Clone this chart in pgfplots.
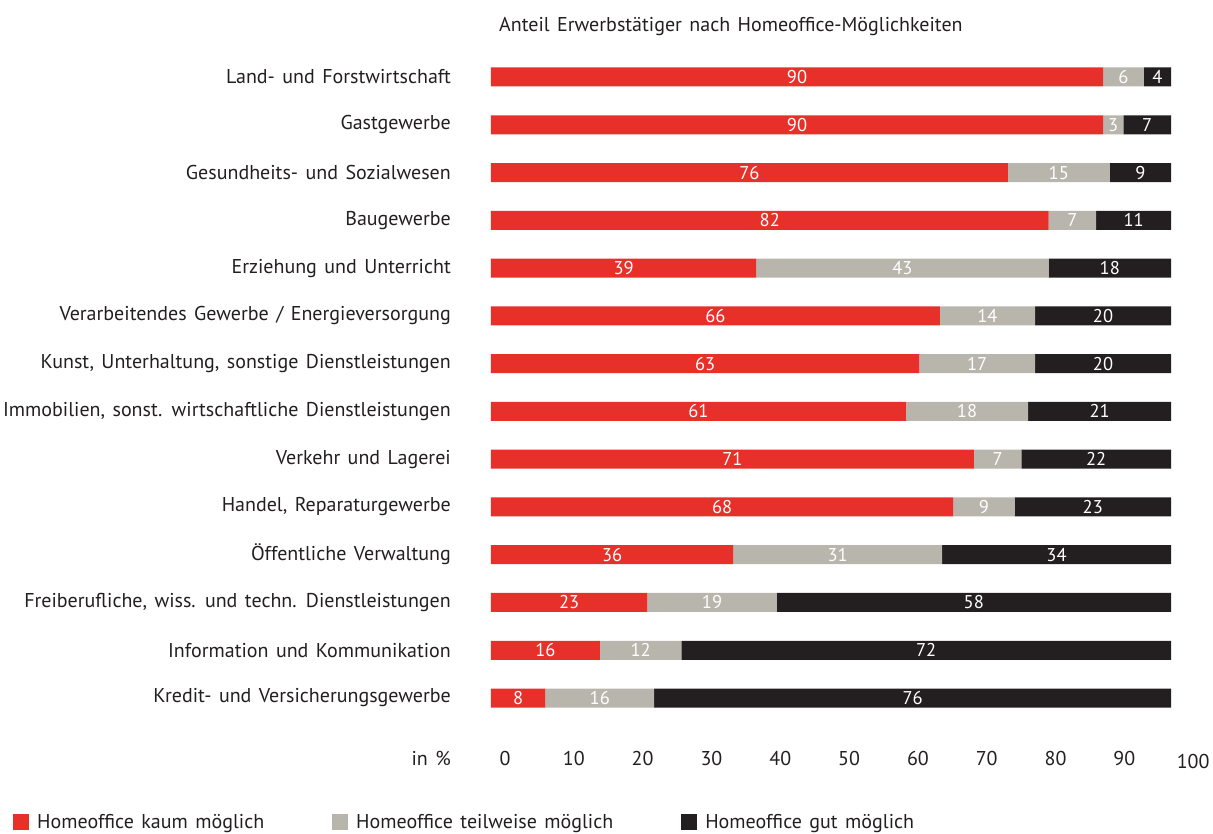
\documentclass[border=0pt]{standalone}
\usepackage{pgfplots}
\pgfplotsset{compat=1.18}
\usepackage{pgfplotstable}
\usepackage{fontspec}
\setmainfont[WordSpace=1.4]{PT Sans}
\definecolor{cred}{HTML}{E8302A}
\definecolor{cgrey}{HTML}{B8B5AD}
\definecolor{cblack}{HTML}{231F20}

\pgfplotstableread{
idx a b c
0 90 6 4
1 90 3 7
2 76 15 9
3 82 7 11
4 39 43 18
5 66 14 20
6 63 17 20
7 61 18 21
8 71 7 22
9 68 9 23
10 36 31 34
11 23 19 58
12 16 12 72
13 8 16 76
}\data

\newcommand{\lblfont}{\fontsize{20}{23}\selectfont}
\newcommand{\valfont}{\fontsize{18.5}{21}\selectfont}

\pgfplotsset{
  common/.style={
    at={(491pt,111.1pt)}, anchor=south west,
    scale only axis, width=702.44pt, height=668.8pt,
    xmin=0, xmax=103.3, ymin=-0.5, ymax=13.5, y dir=reverse,
  }
}

\begin{document}
\begin{tikzpicture}
\begin{axis}[
  common,
  xbar stacked, bar width=19pt,
  axis line style={draw=none}, major tick length=0pt,
  ytick={0,...,13},
  yticklabels={{Land- und Forstwirtschaft},{Gastgewerbe},{Gesundheits- und Sozialwesen},{Baugewerbe},{Erziehung und Unterricht},{Verarbeitendes Gewerbe / Energieversorgung},{Kunst, Unterhaltung, sonstige Dienstleistungen},{Immobilien, sonst. wirtschaftliche Dienstleistungen},{Verkehr und Lagerei},{Handel, Reparaturgewerbe},{Öffentliche Verwaltung},{Freiberufliche, wiss. und techn. Dienstleistungen},{Information und Kommunikation},{Kredit- und Versicherungsgewerbe}},
  yticklabel style={anchor=east, inner sep=0pt, xshift=-40pt, font=\lblfont, text=cblack},
  xtick={2.06,12.18,22.3,32.42,42.54,52.66,62.78,72.9,83.02,93.14,103.26},
  xticklabels={0,10,20,30,40,50,60,70,80,90,\raisebox{-3pt}{100}},
  xticklabel style={anchor=base, inner sep=0pt, yshift=-43.6pt, font=\lblfont, text=cblack},
  clip=false,
  legend columns=3,
  legend cell align=left,
  legend style={at={(axis description cs:0,0)}, anchor=west, xshift=-478pt, yshift=-100.5pt,
    draw=none, fill=none, inner sep=0pt, font=\lblfont, text=cblack,
    /tikz/every even column/.append style={column sep=66pt}},
  legend image code/.code={\fill[#1] (0pt,-8pt) rectangle (16pt,8pt); \path (22pt,0pt);},
]
\addplot[fill=cred, draw=none] table[x expr={\thisrow{a}*100/(\thisrow{a}+\thisrow{b}+\thisrow{c})}, y=idx] {\data};
\addplot[fill=cgrey, draw=none] table[x expr={\thisrow{b}*100/(\thisrow{a}+\thisrow{b}+\thisrow{c})}, y=idx] {\data};
\addplot[fill=cblack, draw=none] table[x expr={\thisrow{c}*100/(\thisrow{a}+\thisrow{b}+\thisrow{c})}, y=idx] {\data};
\legend{Homeoffice kaum möglich, Homeoffice teilweise möglich, Homeoffice gut möglich}
\end{axis}
\begin{axis}[
  common, hide axis, clip=false,
  nodes near coords, point meta=explicit symbolic,
  nodes near coords style={anchor=center, inner sep=0pt, text=white, font=\valfont},
]
\addplot[draw=none, mark=none] table[x expr={\thisrow{a}*50/(\thisrow{a}+\thisrow{b}+\thisrow{c})}, y=idx, meta=a] {\data};
\addplot[draw=none, mark=none] table[x expr={(\thisrow{a}+\thisrow{b}/2)*100/(\thisrow{a}+\thisrow{b}+\thisrow{c})}, y=idx, meta=b] {\data};
\addplot[draw=none, mark=none] table[x expr={(\thisrow{a}+\thisrow{b}+\thisrow{c}/2)*100/(\thisrow{a}+\thisrow{b}+\thisrow{c})}, y=idx, meta=c] {\data};
\end{axis}
\node[anchor=base west, inner sep=0pt, font=\lblfont, text=cblack] at (499pt,801.3pt) {Anteil Erwerbstätiger nach Homeoffice-Möglichkeiten};
\node[anchor=base east, inner sep=0pt, font=\lblfont, text=cblack] at (451pt,67.4pt) {in \%};
\pgfresetboundingbox
\path[use as bounding box] (0pt,0pt) rectangle (1213pt,833pt);
\end{tikzpicture}
\end{document}
